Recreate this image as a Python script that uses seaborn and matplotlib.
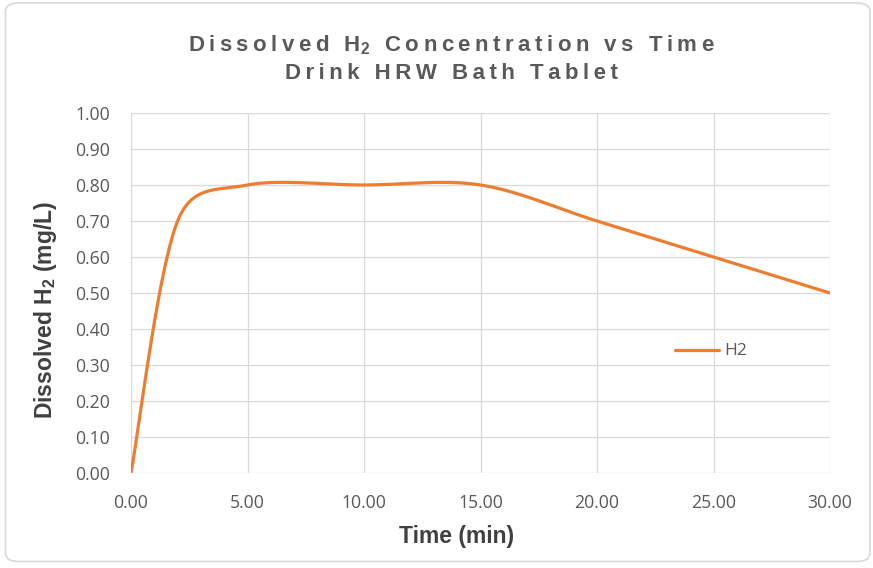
import numpy as np
import pandas as pd
import matplotlib
matplotlib.use("Agg")
import matplotlib.pyplot as plt
from matplotlib.patches import FancyBboxPatch
import seaborn as sns

# ---- data ----
time_min = [0, 2, 5, 10, 15, 20, 25, 30]
h2_mg_l = [0.00, 0.70, 0.80, 0.80, 0.80, 0.70, 0.60, 0.50]
series_name = "H2"
x_ticks = [0, 5, 10, 15, 20, 25, 30]
y_ticks = [0.0, 0.1, 0.2, 0.3, 0.4, 0.5, 0.6, 0.7, 0.8, 0.9, 1.0]

sns.set_theme(style="white")
plt.rcParams["font.family"] = ["Liberation Sans", "DejaVu Sans"]
plt.rcParams["mathtext.fontset"] = "custom"
plt.rcParams["mathtext.rm"] = "Liberation Sans:bold"
plt.rcParams["mathtext.it"] = "Liberation Sans:bold"
plt.rcParams["mathtext.bf"] = "Liberation Sans:bold"

W, H = 873, 568
fig = plt.figure(figsize=(W / 100, H / 100), dpi=100)
fig.patch.set_facecolor("white")

# rounded outer border
border = FancyBboxPatch((5.5 / W, 6.5 / H), (870 - 5.5) / W, (565 - 6.5) / H,
                        boxstyle="round,pad=0,rounding_size=0.015",
                        transform=fig.transFigure, facecolor="none",
                        edgecolor="#d9d9d9", linewidth=1.2, zorder=0)
fig.patches.append(border)

left, right, top, bottom = 131, 830, 113, 473
ax = fig.add_axes([left / W, 1 - bottom / H, (right - left) / W, (bottom - top) / H])
ax.set_zorder(2)
ax.set_facecolor("none")
ax.set_xlim(0, 30)
ax.set_ylim(0, 1.0)


def smooth_curve(xs, ys, n=60):
    """Excel-style smoothed line: Bezier segments computed in screen space,
    tangent handles 1/6 of neighbour chord, clamped to half the segment."""
    P = ax.transData.transform(np.column_stack([xs, ys]).astype(float))
    out = []
    N = len(P)
    for i in range(N - 1):
        p0 = P[i - 1] if i > 0 else P[i]
        p1, p2 = P[i], P[i + 1]
        p3 = P[i + 2] if i + 2 < N else P[i + 1]
        d12 = np.linalg.norm(p2 - p1)
        v1 = (p2 - p0) / 6.0
        v2 = (p3 - p1) / 6.0
        for v in (v1, v2):
            L = np.linalg.norm(v)
            if L > d12 / 2:
                v *= (d12 / 2) / L
        c1 = p1 + v1
        c2 = p2 - v2
        t = np.linspace(0, 1, n, endpoint=(i == N - 2))[:, None]
        seg = ((1 - t) ** 3) * p1 + 3 * ((1 - t) ** 2) * t * c1 + 3 * (1 - t) * t ** 2 * c2 + t ** 3 * p2
        out.append(seg)
    return ax.transData.inverted().transform(np.vstack(out))


curve = smooth_curve(time_min, h2_mg_l)
df = pd.DataFrame({"Time": curve[:, 0], "H2": curve[:, 1], "series": series_name})

orange = "#ED7D31"
sns.lineplot(data=df, x="Time", y="H2", hue="series", palette=[orange],
             sort=False, estimator=None, linewidth=2.3, ax=ax, zorder=3)

ax.set_xlim(0, 30)
ax.set_ylim(0, 1.0)
ax.set_xticks(x_ticks)
ax.set_yticks(y_ticks)
ax.set_xticklabels([f"{v:.2f}" for v in x_ticks])
ax.set_yticklabels([f"{v:.2f}" for v in y_ticks])
ax.grid(True, color="#d9d9d9", linewidth=0.9)
for s in ax.spines.values():
    s.set_visible(False)
ax.tick_params(axis="both", length=0, colors="#595959")
ax.tick_params(axis="y", pad=15)
ax.tick_params(axis="x", pad=15)
for lab in ax.get_xticklabels() + ax.get_yticklabels():
    lab.set_fontfamily(["Open Sans", "DejaVu Sans"])
    lab.set_fontsize(12.7)
    lab.set_color("#595959")

ax.set_xlabel("")
ax.set_ylabel("")
fig.text(457 / W, 1 - 536 / H, "Time (min)", ha="center", va="center",
         fontsize=16.5, fontweight="bold", color="#404040")
fig.text(46 / W, 1 - 310 / H, r"Dissolved H$_2$ (mg/L)", ha="center", va="center",
         rotation=90, fontsize=16.5, fontweight="bold", color="#404040")

# title with letter spacing
sp = "\u2009"


def spaced(s):
    return sp.join(list(s))


t1 = spaced("Dissolved H") + r"$_2$" + sp + spaced(" Concentration vs Time")
t2 = spaced("Drink HRW Bath Tablet")
fig.text(451 / W, 1 - 45 / H, t1, ha="center", va="center", fontsize=16,
         fontweight="bold", color="#595959")
fig.text(451 / W, 1 - 74 / H, t2, ha="center", va="center", fontsize=16,
         fontweight="bold", color="#595959")

leg = ax.legend(loc="center left", bbox_to_anchor=((675 - left) / (right - left), (bottom - 351) / (bottom - top)),
                frameon=False, handlelength=2.9, handletextpad=0.3, borderpad=0, borderaxespad=0)
for t in leg.get_texts():
    t.set_fontfamily(["Open Sans", "DejaVu Sans"])
    t.set_fontsize(12.5)
    t.set_color("#595959")

fig.savefig("out.png", dpi=100, facecolor="white")
